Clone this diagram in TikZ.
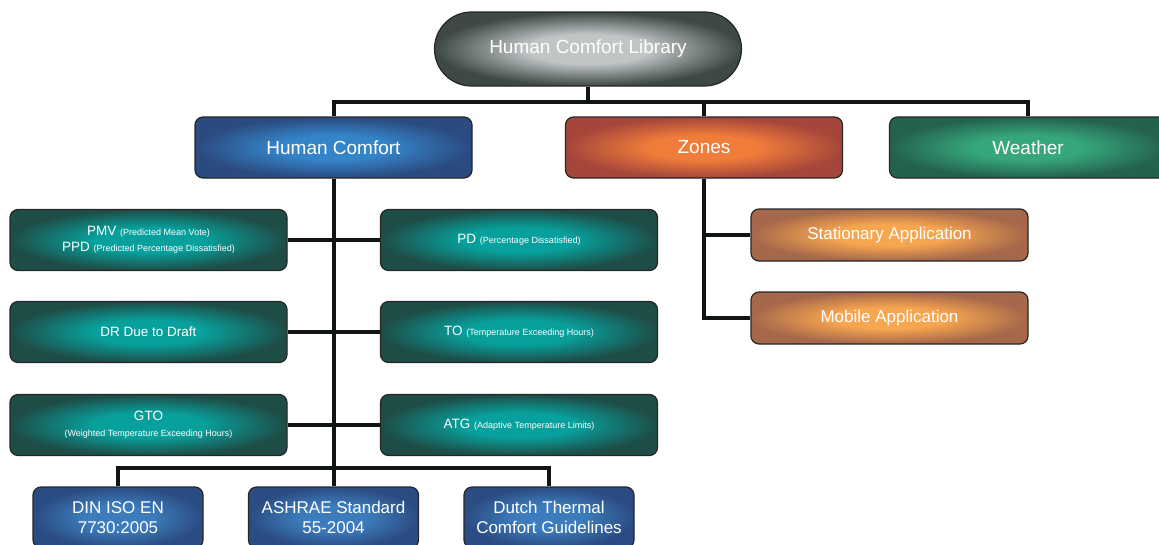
\documentclass[tikz,border=0pt]{standalone}
\usepackage{fontspec}
\setmainfont{Liberation Sans}
\newcommand{\smalltxt}[1]{{\fontsize{9}{11}\selectfont #1}}
% radial glow with a wider bright centre
\makeatletter
\pgfdeclareradialshading[tikz@radial@inner,tikz@radial@outer]{glow}{\pgfpointorigin}{color(0bp)=(tikz@radial@inner);color(10bp)=(tikz@radial@inner);color(25bp)=(tikz@radial@outer);color(50bp)=(tikz@radial@outer)}
\makeatother
\begin{document}
\begin{tikzpicture}[x=1pt,y=-1pt]
    % Define styles
    \tikzstyle{box}=[draw=black!85,line width=1.2pt,rounded corners=8pt,text=white,align=center,inner sep=2pt]
    \tikzstyle{rootbox}=[box,rounded corners=37pt,minimum width=307pt,minimum height=74pt,inner color={rgb,255:red,192;green,197;blue,198},outer color={rgb,255:red,62;green,72;blue,70},shading=glow,font=\fontsize{19}{22}\selectfont]
    \tikzstyle{mainbox}=[box,minimum width=277pt,minimum height=61pt,font=\fontsize{19}{22}\selectfont]
    \tikzstyle{tealbox}=[box,minimum width=277pt,minimum height=61pt,inner color={rgb,255:red,8;green,160;blue,156},outer color={rgb,255:red,30;green,77;blue,71},shading=glow,font=\fontsize{13.5}{16}\selectfont]
    \tikzstyle{appbox}=[box,minimum width=277pt,minimum height=52pt,inner color={rgb,255:red,247;green,166;blue,80},outer color={rgb,255:red,166;green,104;blue,74},shading=glow,font=\fontsize{17}{20}\selectfont]
    \tikzstyle{stdbox}=[box,minimum width=170pt,minimum height=61pt,inner color={rgb,255:red,60;green,124;blue,188},outer color={rgb,255:red,43;green,76;blue,130},shading=glow,font=\fontsize{17}{20}\selectfont]
    \tikzstyle{edge}=[line width=4pt,draw={rgb,255:red,17;green,20;blue,20}]

    \useasboundingbox (0,0) rectangle (1159,544);

    % Draw the nodes
    \node[rootbox] (0) at (588,49) {Human Comfort Library};
    \node[mainbox,inner color={rgb,255:red,52;green,132;blue,200},outer color={rgb,255:red,43;green,74;blue,128},shading=glow] (1) at (333.5,147.5) {Human Comfort};
    \node[mainbox,inner color={rgb,255:red,240;green,124;blue,58},outer color={rgb,255:red,164;green,70;blue,58},shading=glow] (2) at (704,147.5) {Zones};
    \node[mainbox,inner color={rgb,255:red,54;green,166;blue,124},outer color={rgb,255:red,36;green,98;blue,78},shading=glow] (3) at (1028,147.5) {Weather};

    % Human Comfort children
    \node[tealbox] (4) at (148.5,240) {PMV \smalltxt{(Predicted Mean Vote)}\\PPD \smalltxt{(Predicted Percentage Dissatisfied)}};
    \node[tealbox] (5) at (519,240) {PD \smalltxt{(Percentage Dissatisfied)}};
    \node[tealbox] (6) at (148.5,332) {DR Due to Draft};
    \node[tealbox] (7) at (519,332) {TO \smalltxt{(Temperature Exceeding Hours)}};
    \node[tealbox] (8) at (148.5,425) {GTO\\\smalltxt{(Weighted Temperature Exceeding Hours)}};
    \node[tealbox] (9) at (519,425) {ATG \smalltxt{(Adaptive Temperature Limits)}};

    % Standards
    \node[stdbox] (10) at (118,517.5) {DIN ISO EN\\7730:2005};
    \node[stdbox] (11) at (333.5,517.5) {ASHRAE Standard\\55-2004};
    \node[stdbox] (12) at (549,517.5) {Dutch Thermal\\Comfort Guidelines};

    % Zones children
    \node[appbox] (13) at (889.5,235) {Stationary Application};
    \node[appbox] (14) at (889.5,318) {Mobile Application};

    % Draw the edges
    \draw[edge] (0.south) -- ++(0,15) -| (1.north);
    \draw[edge] (0.south) -- ++(0,15) -| (2.north);
    \draw[edge] (0.south) -- ++(0,15) -| (3.north);
    \draw[edge] (1.south) -- (11.north);
    \draw[edge] (1.south) -- ++(0,289) -| (10.north);
    \draw[edge] (1.south) -- ++(0,289) -| (12.north);
    \draw[edge] (4.east) -- (5.west);
    \draw[edge] (6.east) -- (7.west);
    \draw[edge] (8.east) -- (9.west);
    \draw[edge] (2.south) |- (13.west);
    \draw[edge] (2.south) |- (14.west);
\end{tikzpicture}
\end{document}
